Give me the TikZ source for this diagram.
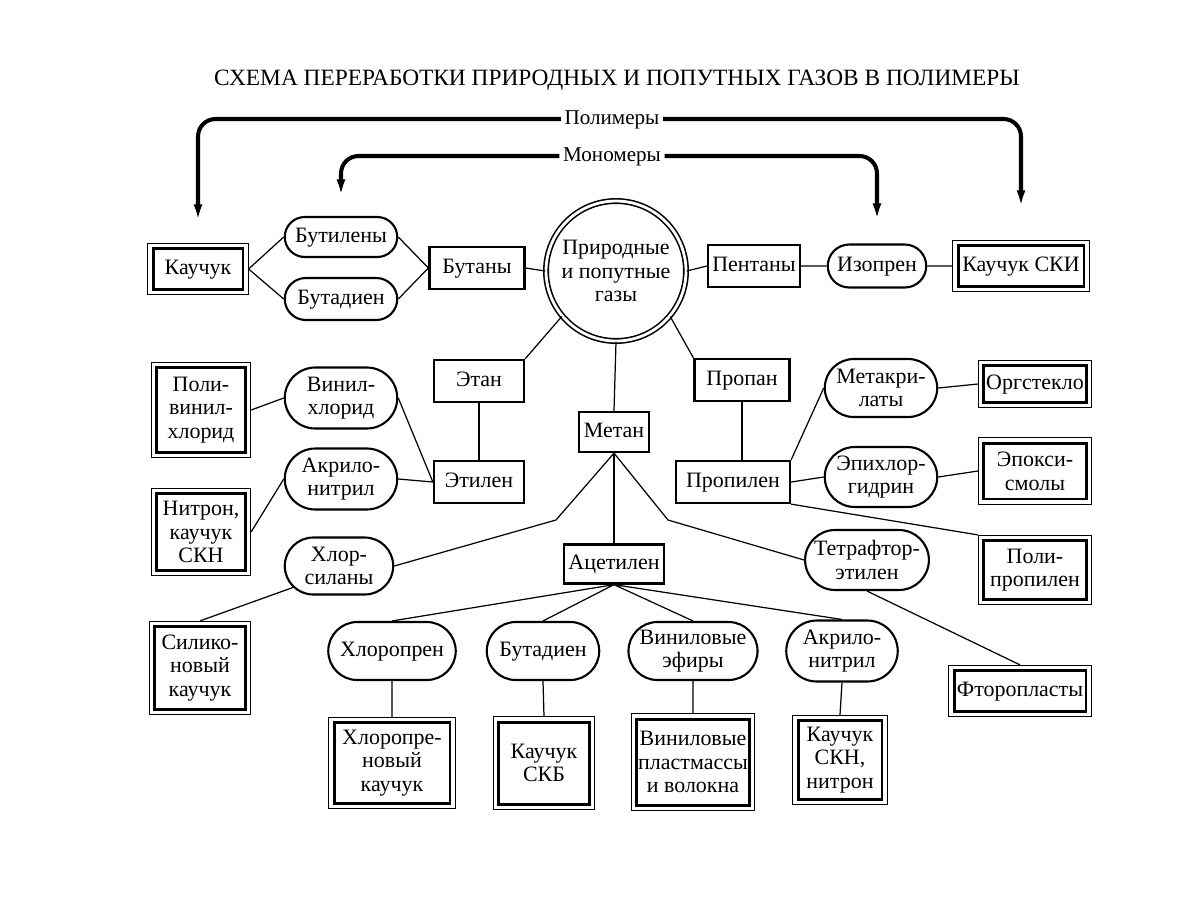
\documentclass[tikz,border=0pt]{standalone}
\usepackage{fontspec}
\setmainfont{Liberation Serif}
\usetikzlibrary{shapes.misc,arrows.meta}
\begin{document}
\begin{tikzpicture}[x=0.02cm,y=-0.02cm,
        font=\fontsize{12.5}{13.5}\selectfont,
        every node/.style={inner sep=1pt,text height=8.4pt,text depth=2.6pt},
        stack/.style={align=center,text height={},text depth={}},
        pill/.style={rounded rectangle,draw,line width=1.2pt,minimum width=2.32cm,minimum height=1.18cm},
        pbox/.style={rectangle,draw,line width=1.3pt,minimum width=1.84cm,minimum height=0.84cm},
        kbox/.style={rectangle,draw,fill=white,line width=1.7pt,outer sep=3.2pt,
          preaction={draw,line width=6.4pt},preaction={draw=white,line width=5.2pt}},
        link/.style={line width=0.7pt},
        flow/.style={line width=2.3pt,rounded corners=0.35cm,-{Latex[length=10pt,width=5pt]}},
        tag/.style={fill=white,inner sep=2pt,font=\fontsize{12}{13}\selectfont}]
  \useasboundingbox (0,0) rectangle (1200,917);

  \node[font=\fontsize{13.3}{14}\selectfont] (T) at (617,80) {СХЕМА ПЕРЕРАБОТКИ ПРИРОДНЫХ И ПОПУТНЫХ ГАЗОВ В ПОЛИМЕРЫ};
  \node[tag] (pol) at (612,119) {Полимеры};
  \node[tag] (mon) at (612,156) {Мономеры};

  \node[circle,stack,draw,double,double distance=1.6pt,line width=0.9pt,minimum size=2.8cm] (gas) at (616,271) {Природные\\и попутные\\газы};

  % top row
  \node[kbox,minimum width=1.8cm,minimum height=0.82cm] (kau) at (198,269) {Каучук};
  \node[pill,minimum height=0.8cm] (btl) at (341,237) {Бутилены};
  \node[pill,minimum height=0.84cm] (bdn) at (341,299) {Бутадиен};
  \node[pbox,minimum width=1.9cm] (btn) at (477,268) {Бутаны};
  \node[pbox] (pen) at (754,266) {Пентаны};
  \node[pill,minimum width=2.04cm,minimum height=0.86cm] (izo) at (877,266) {Изопрен};
  \node[kbox,minimum width=2.52cm,minimum height=0.82cm] (ski) at (1021,266) {Каучук СКИ};

  % left
  \node[kbox,stack,minimum width=1.78cm,minimum height=1.7cm] (pvh) at (201,410) {Поли-\\винил-\\хлорид};
  \node[kbox,stack,minimum width=1.78cm,minimum height=1.54cm] (nit) at (201,532) {Нитрон,\\каучук\\СКН};
  \node[kbox,stack,minimum width=1.82cm,minimum height=1.66cm] (sil) at (200,668) {Силико-\\новый\\каучук};
  \node[pill,stack,minimum height=1.22cm] (vhl) at (341,398) {Винил-\\хлорид};
  \node[pill,stack,minimum height=1.22cm] (akr) at (341,479) {Акрило-\\нитрил};
  \node[pill,stack,minimum width=2.24cm,minimum height=1.14cm] (hsi) at (339,566) {Хлор-\\силаны};
  \node[pbox,minimum width=1.8cm] (eta) at (479,381) {Этан};
  \node[pbox,minimum width=1.8cm] (etl) at (479,482) {Этилен};

  % centre
  \node[pbox,minimum width=1.4cm,minimum height=0.8cm] (met) at (614,432) {Метан};
  \node[pbox,minimum width=2cm,minimum height=0.78cm] (ace) at (614,564) {Ацетилен};

  % right
  \node[pbox,minimum width=1.9cm] (prn) at (742,380) {Пропан};
  \node[pbox,minimum width=2.28cm] (prl) at (733,482) {Пропилен};
  \node[pill,stack,minimum height=1.16cm] (mak) at (881,388) {Метакри-\\латы};
  \node[pill,stack,minimum height=1.2cm] (eph) at (881,477) {Эпихлор-\\гидрин};
  \node[pill,stack,minimum width=2.36cm,minimum height=1.2cm] (tfe) at (867,560) {Тетрафтор-\\этилен};
  \node[kbox,minimum width=2.06cm,minimum height=0.74cm] (org) at (1035,384) {Оргстекло};
  \node[kbox,stack,minimum width=2.06cm,minimum height=1.12cm] (epo) at (1035,471) {Эпокси-\\смолы};
  \node[kbox,stack,minimum width=2.06cm,minimum height=1.18cm] (ppl) at (1035,570) {Поли-\\пропилен};
  \node[kbox,minimum width=2.64cm,minimum height=0.82cm] (ftp) at (1020,691) {Фторопласты};

  % bottom
  \node[pill,minimum width=2.62cm,minimum height=1.16cm] (hlp) at (392,651) {Хлоропрен};
  \node[pill,minimum height=1.16cm] (bd2) at (543,651) {Бутадиен};
  \node[pill,stack,minimum width=2.4cm,minimum height=1.16cm] (vef) at (693,651) {Виниловые\\эфиры};
  \node[pill,stack,minimum width=2.3cm,minimum height=1.22cm] (ak2) at (842,651) {Акрило-\\нитрил};
  \node[kbox,stack,minimum width=2.32cm,minimum height=1.62cm] (hpk) at (392,763) {Хлоропре-\\новый\\каучук};
  \node[kbox,stack,minimum width=1.82cm,minimum height=1.64cm] (skb) at (544,763) {Каучук\\СКБ};
  \node[kbox,stack,minimum width=2.24cm,minimum height=1.72cm] (vpl) at (693,762) {Виниловые\\пластмассы\\и волокна};
  \node[kbox,stack,minimum width=1.68cm,minimum height=1.58cm] (skn) at (840,760) {Каучук\\СКН,\\нитрон};

  \draw[flow,shorten >=0.42cm] (pol.west) -| (kau.north);
  \draw[flow,shorten >=0.64cm] (pol.east) -| (ski.north);
  \draw[flow,shorten >=0.38cm] (mon.west) -| (btl.north);
  \draw[flow,shorten >=0.45cm] (mon.east) -| (izo.north);

  \draw[link] (btl.west) -- (kau.east) -- (bdn.west);
  \draw[link] (btl.east) -- (btn.west) -- (bdn.east);
  \draw[link] (btn.east) -- (gas.west);
  \draw[link] (gas.east) -- (pen.west) (pen.east) -- (izo.west) (izo.east) -- (ski.west);
  \draw[link] (gas.-140) -- (eta.north east);
  \draw[link] (eta.south) -- (etl.north);
  \draw[link] (pvh.east) -- (vhl.west);
  \draw[link] (vhl.east) -- (etl.west) -- (akr.east);
  \draw[link] (nit.east) -- (akr.west);
  \draw[link] (hsi.-155) -- (sil.north);
  \draw[link] (hsi.east) -- (556,520) -- (met.south) -- (668,520) -- (tfe.west);
  \draw[link] (gas.south) -- (met.north);
  \draw[link] (met.south) -- (ace.north);
  \draw[link] (gas.-40) -- (prn.north west);
  \draw[link] (prn.south) -- (prn.south |- prl.north);
  \draw[link] (prl.north east) -- (mak.west) (mak.east) -- (org.west);
  \draw[link] (prl.east) -- (eph.west) (eph.east) -- (epo.west);
  \draw[link] (prl.south east) -- (ppl.north west);
  \draw[link] (tfe.south) -- (ftp.north);
  \draw[link] (ace.south) -- (hlp.north) (ace.south) -- (bd2.north) (ace.south) -- (vef.north) (ace.south) -- (ak2.north);
  \draw[link] (hlp.south) -- (hpk.north) (bd2.south) -- (skb.north) (vef.south) -- (vpl.north) (ak2.south) -- (skn.north);
\end{tikzpicture}
\end{document}
